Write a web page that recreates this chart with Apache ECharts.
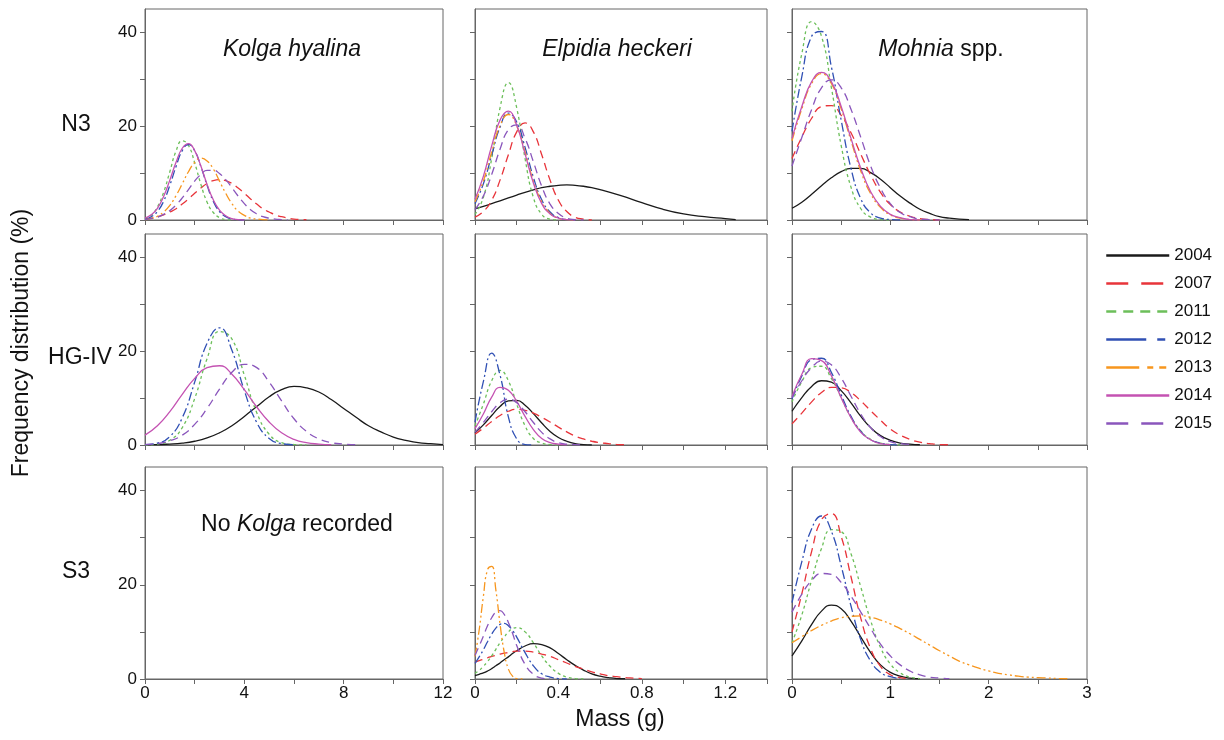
<!DOCTYPE html>
<html>
<head>
<meta charset="utf-8">
<title>Mass frequency distributions</title>
<style>
    body { margin: 0; background: #fff; }
    #main { width: 1224px; height: 740px; }
</style>
<script src="https://cdn.jsdelivr.net/npm/echarts@6.0.0/dist/echarts.min.js"></script>
</head>
<body>
<div id="main"></div>
<script type="text/javascript">
    // ---- data ----
    const years = ['2004', '2007', '2011', '2012', '2013', '2014', '2015'];

    // tick positions / labelled ticks per column
    const kolgaTicks = [0, 2, 4, 6, 8, 10, 12];
    const kolgaLabels = [0, 4, 8, 12];
    const elpidiaTicks = [0, 0.2, 0.4, 0.6, 0.8, 1.0, 1.2, 1.4];
    const elpidiaLabels = [0, 0.4, 0.8, 1.2];
    const mohniaTicks = [0, 0.5, 1, 1.5, 2, 2.5, 3];
    const mohniaLabels = [0, 1, 2, 3];
    const freqTicks = [0, 10, 20, 30, 40];
    const freqLabels = [0, 20, 40];

    // Kolga hyalina, N3
    const xKolgaN3 = [0, 0.25, 0.5, 0.75, 1, 1.25, 1.5, 1.75, 2, 2.25, 2.5, 2.75, 3, 3.25, 3.5, 3.75, 4, 4.25, 4.5, 4.75, 5, 5.25, 5.5, 5.75, 6, 6.25, 6.5];
    const kolgaN3_2007 = [0.2, 0.4, 0.7, 1.1, 1.7, 2.4, 3.4, 4.5, 5.7, 6.8, 7.8, 8.4, 8.6, 8.4, 7.8, 6.8, 5.7, 4.5, 3.4, 2.4, 1.7, 1.1, 0.7, 0.4, 0.2, 0.1, 0.05];
    const kolgaN3_2011 = [0.3, 1.0, 2.8, 5.9, 10.3, 14.7, 16.9, 15.9, 12.2, 7.6, 3.8, 1.6, 0.5, 0.1, 0];
    const kolgaN3_2012 = [0.2, 0.7, 1.8, 4.0, 7.4, 11.4, 14.8, 16.1, 14.8, 11.4, 7.4, 4.0, 1.8, 0.7, 0.2, 0.05, 0];
    const kolgaN3_2013 = [0.1, 0.3, 0.8, 1.7, 3.1, 5.2, 7.7, 10.3, 12.3, 13.2, 12.6, 10.9, 8.3, 5.7, 3.5, 1.9, 1.0, 0.4, 0.2, 0.1, 0];
    const kolgaN3_2014 = [0.4, 1.1, 2.5, 5.0, 8.5, 12.3, 15.3, 16.3, 14.8, 11.5, 7.6, 4.3, 2.1, 0.9, 0.3, 0.1, 0];
    const kolgaN3_2015 = [0.1, 0.3, 0.6, 1.2, 2.0, 3.2, 4.7, 6.5, 8.3, 9.7, 10.6, 10.6, 9.9, 8.6, 6.9, 5.1, 3.5, 2.2, 1.3, 0.7, 0.4, 0.2, 0.1, 0];

    // Kolga hyalina, HG-IV
    const xKolgaHG = [0, 0.5, 1, 1.5, 2, 2.5, 3, 3.5, 4, 4.5, 5, 5.5, 6, 6.5, 7, 7.5, 8, 8.5, 9, 9.5, 10, 10.5, 11, 11.5, 12];
    const kolgaHG_2004 = [0.1, 0.1, 0.2, 0.4, 0.8, 1.5, 2.6, 4.1, 6.1, 8.2, 10.3, 11.8, 12.5, 12.2, 11.3, 9.7, 7.8, 5.9, 4.1, 2.8, 1.7, 1.0, 0.5, 0.3, 0.1];
    const kolgaHG_2011 = [0, 0.2, 1.0, 3.7, 9.9, 18.4, 24.2, 22.6, 14.9, 6.9, 2.3, 0.5, 0.1, 0];
    const kolgaHG_2012 = [0.1, 0.4, 1.8, 5.8, 13.4, 21.7, 25.0, 20.2, 11.6, 4.8, 1.4, 0.3, 0.05];
    const kolgaHG_2014 = [2.1, 4.1, 7.1, 10.8, 14.2, 16.5, 16.9, 15.1, 11.8, 8.1, 4.9, 2.6, 1.2, 0.5, 0.2, 0.05];
    const kolgaHG_2015 = [0.1, 0.3, 0.9, 2.1, 4.4, 7.8, 11.9, 15.5, 17.2, 16.5, 13.4, 9.4, 5.6, 2.9, 1.3, 0.5, 0.2, 0.05];

    // Elpidia heckeri, N3
    const xElpidiaN3 = [0, 0.04, 0.08, 0.12, 0.16, 0.2, 0.24, 0.28, 0.32, 0.36, 0.4, 0.44, 0.48, 0.52, 0.56, 0.6, 0.7, 0.8, 0.9, 1.0, 1.1, 1.2, 1.25];
    const elpidiaN3_2004 = [2.4, 2.9, 3.5, 4.1, 4.7, 5.3, 5.9, 6.4, 6.9, 7.2, 7.4, 7.5, 7.4, 7.2, 6.9, 6.5, 5.2, 3.7, 2.3, 1.3, 0.7, 0.3, 0.1];
    const elpidiaN3_2007 = [0.6, 1.8, 4.2, 8.5, 13.9, 18.8, 20.7, 18.8, 13.9, 8.5, 4.2, 1.8, 0.6, 0.2, 0];
    const elpidiaN3_2011 = [1.2, 4.8, 13.1, 23.9, 29.3, 23.9, 13.1, 4.8, 1.2, 0.2, 0];
    const elpidiaN3_2012 = [3.5, 7.7, 13.8, 19.8, 22.8, 20.9, 15.5, 9.1, 4.3, 1.7, 0.5, 0.1, 0];
    const elpidiaN3_2013 = [3.9, 8.3, 14.5, 20.1, 22.5, 20.1, 14.5, 8.3, 3.9, 1.4, 0.4, 0.1, 0];
    const elpidiaN3_2014 = [4.4, 9.3, 15.8, 21.3, 23.2, 20.2, 14.1, 7.9, 3.5, 1.3, 0.4, 0.1, 0];
    const elpidiaN3_2015 = [2.2, 5.1, 9.7, 15.1, 19.3, 20.3, 17.4, 12.4, 7.2, 3.4, 1.4, 0.4, 0.1, 0];

    // Elpidia heckeri, HG-IV
    const xElpidiaHG = [0, 0.04, 0.08, 0.12, 0.16, 0.2, 0.24, 0.28, 0.32, 0.36, 0.4, 0.44, 0.48, 0.52, 0.56, 0.6, 0.64, 0.68, 0.72];
    const elpidiaHG_2004 = [2.6, 4.3, 6.3, 8.2, 9.4, 9.5, 8.5, 6.7, 4.7, 2.9, 1.6, 0.8, 0.3, 0.1, 0];
    const elpidiaHG_2007 = [2.3, 3.6, 5.0, 6.3, 7.2, 7.6, 7.4, 6.8, 5.9, 4.9, 3.8, 2.8, 1.9, 1.3, 0.8, 0.5, 0.3, 0.1, 0.05];
    const elpidiaHG_2011 = [4.1, 8.7, 13.7, 15.9, 13.7, 8.7, 4.1, 1.4, 0.4, 0.1, 0];
    const elpidiaHG_2012 = [4.9, 13.5, 19.6, 14.9, 6.0, 1.3, 0.1, 0];
    const elpidiaHG_2014 = [3.5, 6.6, 10.2, 12.3, 11.7, 9.3, 6.1, 3.3, 1.4, 0.5, 0.2, 0.05];
    const elpidiaHG_2015 = [2.7, 4.8, 7.1, 9.0, 9.8, 9.0, 7.1, 4.8, 2.7, 1.3, 0.5, 0.2, 0.1, 0];

    // Elpidia heckeri, S3
    const xElpidiaS3 = [0, 0.02, 0.04, 0.06, 0.08, 0.1, 0.12, 0.14, 0.16, 0.18, 0.2, 0.24, 0.28, 0.32, 0.36, 0.4, 0.44, 0.48, 0.52, 0.56, 0.6, 0.64, 0.68, 0.72, 0.76, 0.8];
    const elpidiaS3_2004 = [0.7, 1.0, 1.3, 1.7, 2.2, 2.8, 3.4, 4.1, 4.7, 5.4, 6.0, 7.0, 7.5, 7.3, 6.6, 5.4, 4.1, 2.9, 1.9, 1.1, 0.6, 0.3, 0.1, 0.05];
    const elpidiaS3_2007 = [3.6, 3.9, 4.2, 4.5, 4.8, 5.0, 5.3, 5.5, 5.6, 5.8, 5.9, 5.9, 5.7, 5.3, 4.8, 4.1, 3.4, 2.7, 2.1, 1.5, 1.1, 0.7, 0.5, 0.3, 0.2, 0.1];
    const elpidiaS3_2011 = [1.2, 1.8, 2.7, 3.7, 4.9, 6.3, 7.7, 8.9, 10.0, 10.7, 10.9, 10.0, 7.7, 4.9, 2.7, 1.2, 0.4, 0.1, 0];
    const elpidiaS3_2012 = [3.3, 4.7, 6.2, 7.9, 9.5, 10.8, 11.6, 11.8, 11.3, 10.3, 8.9, 5.6, 2.8, 1.1, 0.4, 0.1, 0];
    const elpidiaS3_2013 = [4.8, 10.4, 17.5, 23.2, 23.9, 18.9, 11.7, 5.7, 2.1, 0.6, 0.1, 0];
    const elpidiaS3_2015 = [5.0, 7.0, 9.1, 11.3, 13.0, 14.2, 14.5, 13.7, 12.0, 9.7, 7.1, 3.1, 1.0, 0.2, 0];

    // Mohnia spp., N3
    const xMohniaN3 = [0, 0.1, 0.2, 0.3, 0.4, 0.5, 0.6, 0.7, 0.8, 0.9, 1.0, 1.1, 1.2, 1.3, 1.4, 1.5, 1.6, 1.7, 1.8];
    const mohniaN3_2004 = [2.5, 3.8, 5.5, 7.3, 9.0, 10.3, 11.0, 11.0, 10.1, 8.7, 6.9, 5.1, 3.6, 2.3, 1.4, 0.7, 0.4, 0.2, 0.1];
    const mohniaN3_2007 = [13.1, 17.7, 21.7, 24.2, 24.4, 22.3, 18.6, 14.0, 9.6, 5.9, 3.3, 1.7, 0.8, 0.3, 0.1, 0];
    const mohniaN3_2011 = [23.2, 35.5, 42.3, 39.2, 28.3, 15.9, 7.0, 2.4, 0.6, 0.1, 0];
    const mohniaN3_2012 = [18.9, 30.6, 39.2, 40.2, 32.7, 21.3, 11.0, 4.5, 1.5, 0.4, 0.1, 0];
    const mohniaN3_2013 = [16.9, 23.7, 29.1, 31.2, 29.1, 23.7, 16.9, 10.4, 5.6, 2.7, 1.1, 0.4, 0.1, 0];
    const mohniaN3_2014 = [17.4, 24.2, 29.5, 31.5, 29.5, 24.2, 17.4, 11.0, 6.0, 2.9, 1.2, 0.5, 0.1, 0];
    const mohniaN3_2015 = [11.5, 17.6, 23.6, 28.2, 29.9, 28.2, 23.6, 17.6, 11.5, 6.8, 3.5, 1.6, 0.7, 0.2, 0.1, 0];

    // Mohnia spp., HG-IV
    const xMohniaHG = [0, 0.1, 0.2, 0.3, 0.4, 0.5, 0.6, 0.7, 0.8, 0.9, 1.0, 1.1, 1.2, 1.3, 1.4, 1.5, 1.6, 1.7];
    const mohniaHG_2004 = [7.2, 10.1, 12.5, 13.7, 13.4, 11.6, 9.0, 6.1, 3.7, 2.0, 1.0, 0.4, 0.2, 0.05];
    const mohniaHG_2007 = [4.5, 6.8, 9.2, 11.2, 12.3, 12.2, 11.2, 9.4, 7.3, 5.3, 3.4, 2.1, 1.2, 0.6, 0.3, 0.1, 0.05];
    const mohniaHG_2011 = [9.2, 13.5, 16.5, 16.8, 14.2, 10.1, 5.9, 3.0, 1.2, 0.4, 0.1, 0];
    const mohniaHG_2012 = [9.8, 14.7, 18.2, 18.5, 15.5, 10.7, 6.1, 2.9, 1.1, 0.4, 0.1, 0];
    const mohniaHG_2014 = [10.3, 15.1, 18.4, 18.0, 14.8, 10.1, 5.8, 2.7, 1.1, 0.3, 0.1];
    const mohniaHG_2015 = [10.1, 13.7, 16.5, 17.9, 17.1, 14.3, 10.4, 6.6, 3.7, 1.8, 0.7, 0.3, 0.1];

    // Mohnia spp., S3
    const xMohniaS3 = [0, 0.1, 0.2, 0.3, 0.4, 0.5, 0.6, 0.7, 0.8, 0.9, 1.0, 1.1, 1.2, 1.3, 1.4, 1.5, 1.6, 1.7, 1.8, 1.9, 2.0, 2.1, 2.2, 2.3, 2.4, 2.5, 2.6, 2.7, 2.8, 2.9];
    const mohniaS3_2004 = [4.9, 8.1, 11.6, 14.4, 15.7, 14.9, 12.3, 8.9, 5.6, 3.0, 1.4, 0.6, 0.2, 0.05];
    const mohniaS3_2007 = [10.0, 18.1, 27.1, 33.8, 35.1, 30.3, 21.7, 12.9, 6.4, 2.7, 0.9, 0.3, 0.1];
    const mohniaS3_2011 = [7.7, 13.6, 21.0, 27.7, 31.7, 31.3, 26.6, 19.5, 12.4, 6.7, 3.2, 1.3, 0.4, 0.1];
    const mohniaS3_2012 = [16.2, 24.9, 31.9, 34.6, 31.4, 24.0, 15.5, 8.3, 3.8, 1.4, 0.5, 0.1];
    const mohniaS3_2013 = [7.7, 9.0, 10.3, 11.4, 12.3, 13.0, 13.3, 13.4, 13.1, 12.5, 11.7, 10.7, 9.6, 8.4, 7.2, 6.0, 4.9, 3.8, 3.0, 2.3, 1.7, 1.2, 0.9, 0.6, 0.4, 0.3, 0.2, 0.1, 0.05];
    const mohniaS3_2015 = [14.2, 18.0, 20.9, 22.4, 22.2, 20.5, 17.6, 14.2, 10.7, 7.4, 4.9, 3.0, 1.7, 0.9, 0.4, 0.2, 0.1];

    // ---- styling ----
    const FONT = '"Liberation Sans", Arial, sans-serif';
    const NARROW = '"Liberation Sans Narrow", "Liberation Sans", Arial, sans-serif';
    const TXT = '#111';
    const FRAME = '#666';

    const yearStyle = {
        '2004': { color: '#1a1a1a', dash: 'solid', legendDash: 'solid' },
        '2007': { color: '#e8343a', dash: [8, 5], legendDash: [22, 13] },
        '2011': { color: '#6cbf5a', dash: [3, 3], legendDash: [10, 7] },
        '2012': { color: '#3050b4', dash: [9, 3, 2, 3], legendDash: [40, 11, 8, 4] },
        '2013': { color: '#f7961e', dash: [9, 3, 2, 3, 2, 3], legendDash: [33, 8, 6, 6, 7, 3] },
        '2014': { color: '#c452b2', dash: 'solid', legendDash: 'solid' },
        '2015': { color: '#8a56bc', dash: [8, 5], legendDash: [22, 13] }
    };

    const cols = [
        { left: 145, width: 298, max: 12, ticks: kolgaTicks, labels: kolgaLabels },
        { left: 475, width: 292, max: 1.4, ticks: elpidiaTicks, labels: elpidiaLabels },
        { left: 792, width: 295, max: 3, ticks: mohniaTicks, labels: mohniaLabels }
    ];
    const rows = [{ top: 9, height: 211 }, { top: 234, height: 211 }, { top: 467, height: 212 }];

    const panels = [
        { row: 0, col: 0, x: xKolgaN3, curves: [['2007', kolgaN3_2007], ['2011', kolgaN3_2011], ['2012', kolgaN3_2012], ['2013', kolgaN3_2013], ['2014', kolgaN3_2014], ['2015', kolgaN3_2015]] },
        { row: 0, col: 1, x: xElpidiaN3, curves: [['2004', elpidiaN3_2004], ['2007', elpidiaN3_2007], ['2011', elpidiaN3_2011], ['2012', elpidiaN3_2012], ['2013', elpidiaN3_2013], ['2014', elpidiaN3_2014], ['2015', elpidiaN3_2015]] },
        { row: 0, col: 2, x: xMohniaN3, curves: [['2004', mohniaN3_2004], ['2007', mohniaN3_2007], ['2011', mohniaN3_2011], ['2012', mohniaN3_2012], ['2013', mohniaN3_2013], ['2014', mohniaN3_2014], ['2015', mohniaN3_2015]] },
        { row: 1, col: 0, x: xKolgaHG, curves: [['2004', kolgaHG_2004], ['2011', kolgaHG_2011], ['2012', kolgaHG_2012], ['2014', kolgaHG_2014], ['2015', kolgaHG_2015]] },
        { row: 1, col: 1, x: xElpidiaHG, curves: [['2004', elpidiaHG_2004], ['2007', elpidiaHG_2007], ['2011', elpidiaHG_2011], ['2012', elpidiaHG_2012], ['2014', elpidiaHG_2014], ['2015', elpidiaHG_2015]] },
        { row: 1, col: 2, x: xMohniaHG, curves: [['2004', mohniaHG_2004], ['2007', mohniaHG_2007], ['2011', mohniaHG_2011], ['2012', mohniaHG_2012], ['2014', mohniaHG_2014], ['2015', mohniaHG_2015]] },
        { row: 2, col: 0, x: [], curves: [] },
        { row: 2, col: 1, x: xElpidiaS3, curves: [['2004', elpidiaS3_2004], ['2007', elpidiaS3_2007], ['2011', elpidiaS3_2011], ['2012', elpidiaS3_2012], ['2013', elpidiaS3_2013], ['2015', elpidiaS3_2015]] },
        { row: 2, col: 2, x: xMohniaS3, curves: [['2004', mohniaS3_2004], ['2007', mohniaS3_2007], ['2011', mohniaS3_2011], ['2012', mohniaS3_2012], ['2013', mohniaS3_2013], ['2015', mohniaS3_2015]] }
    ];

    let grid = [], xAxis = [], yAxis = [], series = [];

    panels.forEach((p, i) => {
        const c = cols[p.col], r = rows[p.row];
        grid.push({
            left: c.left, top: r.top, width: c.width, height: r.height,
            show: true, borderColor: FRAME, borderWidth: 1, backgroundColor: 'transparent'
        });
        xAxis.push({
            gridIndex: i, type: 'value', min: 0, max: c.max,
            axisLine: { show: true, onZero: false, lineStyle: { color: FRAME, width: 1 } },
            axisTick: { show: true, length: 5, customValues: c.ticks, lineStyle: { color: FRAME } },
            axisLabel: {
                show: p.row === 2, customValues: c.labels, margin: 6,
                fontFamily: NARROW, fontSize: 17, color: TXT,
                formatter: v => String(v)
            },
            splitLine: { show: false }
        });
        yAxis.push({
            gridIndex: i, type: 'value', min: 0, max: 45,
            axisLine: { show: true, onZero: false, lineStyle: { color: FRAME, width: 1 } },
            axisTick: { show: true, length: 5, customValues: freqTicks, lineStyle: { color: FRAME } },
            axisLabel: {
                show: p.col === 0, customValues: freqLabels, margin: 8,
                fontFamily: FONT, fontSize: 17, color: TXT,
                formatter: v => String(v)
            },
            splitLine: { show: false }
        });
        p.curves.forEach(([yr, ys]) => {
            const st = yearStyle[yr];
            series.push({
                name: yr,
                type: 'line',
                xAxisIndex: i,
                yAxisIndex: i,
                data: ys.map((v, k) => [p.x[k], v]),
                smooth: 0.5,
                symbol: 'none',
                showSymbol: false,
                silent: true,
                itemStyle: { color: st.color },
                lineStyle: { color: st.color, width: 1.3, type: st.dash }
            });
        });
    });

    const titleStyle = { fontFamily: FONT, fontSize: 23, fill: TXT };
    function label(text, x, y, extra) {
        return Object.assign({
            type: 'text', x: x, y: y, silent: true,
            style: Object.assign({ text: text, align: 'center', verticalAlign: 'middle' }, titleStyle)
        }, extra || {});
    }

    const graphics = [
        label('Kolga hyalina', 292, 50),
        label('Elpidia heckeri', 617, 50),
        label('{i|Mohnia} spp.', 941, 50),
        label('No {i|Kolga} recorded', 297, 525),
        label('N3', 76, 125),
        label('HG-IV', 80, 358),
        label('S3', 76, 572),
        label('Frequency distribution (%)', 22, 343, { rotation: Math.PI / 2 }),
        label('Mass (g)', 620, 720)
    ];
    graphics[0].style.fontStyle = 'italic';
    graphics[1].style.fontStyle = 'italic';
    graphics[2].style.rich = { i: { fontStyle: 'italic', fontFamily: FONT, fontSize: 23, fill: TXT } };
    graphics[3].style.rich = { i: { fontStyle: 'italic', fontFamily: FONT, fontSize: 23, fill: TXT } };
    graphics[8].style.fontFamily = NARROW;

    let myChart = echarts.init(document.getElementById('main'), null, { renderer: 'canvas' });
    let option = {
        backgroundColor: '#fff',
        animation: false,
        legend: {
            orient: 'vertical',
            left: 1100,
            top: 242,
            itemWidth: 63,
            itemHeight: 14,
            itemGap: 11,
            selectedMode: false,
            itemStyle: { color: 'transparent', borderColor: 'transparent', borderWidth: 0, opacity: 0 },
            textStyle: { fontFamily: FONT, fontSize: 17, color: TXT },
            data: years.map(y => ({
                name: y,
                lineStyle: { color: yearStyle[y].color, width: 2.5, type: yearStyle[y].legendDash, opacity: 1 }
            }))
        },
        grid: grid,
        xAxis: xAxis,
        yAxis: yAxis,
        series: series,
        graphic: graphics
    };
    myChart.setOption(option);
</script>
</body>
</html>
